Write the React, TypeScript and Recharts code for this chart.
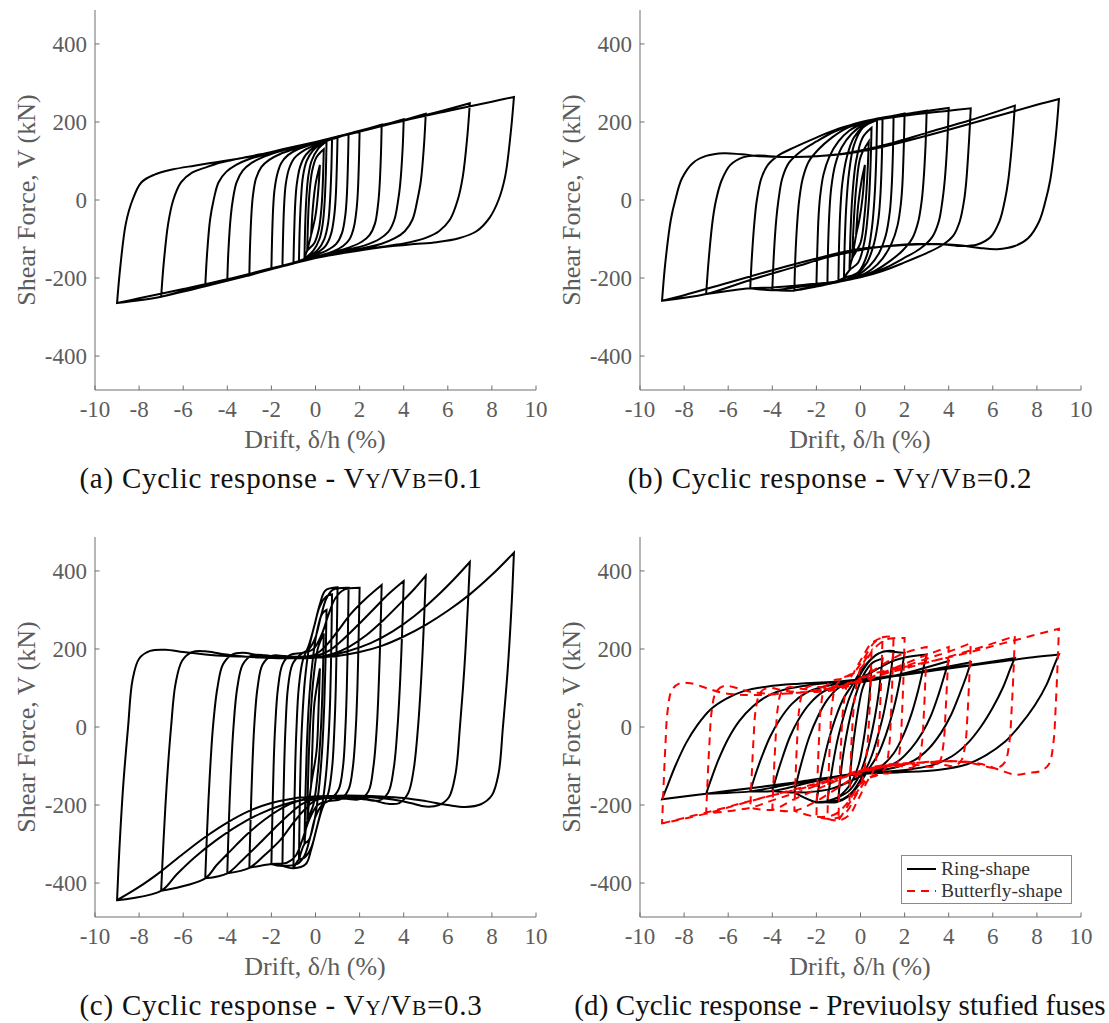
import { LineChart, Line, XAxis, YAxis } from "recharts"

const SERIF = '"Liberation Serif", "Times New Roman", serif'
const AXIS_COLOR = "#6e6e6e"
const TICK_COLOR = "#5c5c5c"

const X_TICKS = [-10, -8, -6, -4, -2, 0, 2, 4, 6, 8, 10]
const Y_TICKS = [-400, -200, 0, 200, 400]
const Y_LIM = 487

type Pt = [number, number]

// ---- (a) Vy/Vb = 0.1 : drift (%), shear (kN), one closed loop per amplitude
const A_02: Pt[] = [[-0.2, -90], [-0.12, -20], [0, 40], [0.2, 90], [0.12, 20], [0, -40], [-0.2, -90]]
const A_0375: Pt[] = [[-0.375, -130], [-0.33, -40], [-0.27, 20], [-0.15, 75], [0.05, 110], [0.375, 130], [0.33, 40], [0.27, -20], [0.15, -75], [-0.05, -110], [-0.375, -130]]
const A_05: Pt[] = [[-0.5, -150], [-0.47, -70], [-0.42, 0], [-0.33, 60], [-0.18, 100], [0.1, 130], [0.5, 150], [0.47, 70], [0.42, 0], [0.33, -60], [0.18, -100], [-0.1, -130], [-0.5, -150]]
const A_075: Pt[] = [[-0.75, -158], [-0.72, -80], [-0.66, 0], [-0.57, 60], [-0.4, 100], [-0.1, 128], [0.3, 145], [0.75, 158], [0.72, 80], [0.66, 0], [0.57, -60], [0.4, -100], [0.1, -128], [-0.3, -145], [-0.75, -158]]
const A_1: Pt[] = [[-1, -163], [-0.97, -90], [-0.92, -10], [-0.85, 40], [-0.7, 85], [-0.45, 115], [0, 138], [0.5, 152], [1, 163], [0.97, 90], [0.92, 10], [0.85, -40], [0.7, -88], [0.45, -118], [0, -138], [-0.5, -152], [-1, -163]]
const A_15: Pt[] = [[-1.5, -170], [-1.47, -90], [-1.42, -10], [-1.35, 40], [-1.2, 80], [-0.95, 108], [-0.5, 128], [0, 141], [0.75, 156], [1.5, 170], [1.47, 90], [1.42, 10], [1.35, -40], [1.2, -85], [0.95, -112], [0.5, -130], [0, -141], [-0.75, -156], [-1.5, -170]]
const A_2: Pt[] = [[-2, -177], [-1.97, -100], [-1.92, -20], [-1.86, 25], [-1.74, 65], [-1.55, 95], [-1.25, 115], [-0.8, 130], [0, 146], [1, 162], [2, 177], [1.97, 100], [1.92, 20], [1.86, -25], [1.74, -70], [1.55, -100], [1.25, -118], [0.8, -132], [0, -146], [-1, -162], [-2, -177]]
const A_3: Pt[] = [[-3, -193], [-2.97, -120], [-2.9, -30], [-2.84, 10], [-2.7, 55], [-2.45, 85], [-2.1, 103], [-1.6, 118], [-1, 130], [0, 147], [1, 162], [2, 177], [3, 193], [2.97, 120], [2.9, 30], [2.84, -10], [2.7, -60], [2.45, -90], [2.1, -107], [1.6, -120], [1, -131], [0, -147], [-1, -162], [-2, -177], [-3, -193]]
const A_4: Pt[] = [[-4, -207], [-3.95, -130], [-3.84, -40], [-3.75, 0], [-3.58, 45], [-3.3, 75], [-2.9, 95], [-2.3, 112], [-1.5, 127], [-0.5, 140], [0.5, 155], [2, 177], [3, 191], [4, 207], [3.95, 130], [3.84, 40], [3.75, 0], [3.58, -50], [3.3, -82], [2.9, -100], [2.3, -115], [1.5, -127], [0.5, -142], [-0.5, -155], [-2, -177], [-3, -191], [-4, -207]]
const A_5: Pt[] = [[-5, -221], [-4.92, -140], [-4.78, -50], [-4.62, 0], [-4.4, 45], [-4.05, 72], [-3.6, 90], [-3, 105], [-2.2, 118], [-1.2, 132], [0, 149], [1.5, 170], [3, 192], [4, 205], [5, 221], [4.92, 140], [4.78, 50], [4.62, 0], [4.4, -50], [4.05, -80], [3.6, -98], [3, -112], [2.2, -123], [1.2, -134], [0, -149], [-1.5, -170], [-3, -192], [-4, -205], [-5, -221]]
const A_7: Pt[] = [[-7, -248], [-6.88, -160], [-6.68, -60], [-6.45, 0], [-6.1, 45], [-5.6, 70], [-5, 83], [-4.3, 96], [-3.5, 106], [-2.5, 117], [-1.5, 130], [0, 149], [2, 176], [4, 204], [5.5, 225], [7, 248], [6.88, 160], [6.68, 60], [6.45, 0], [6.1, -50], [5.6, -80], [5, -97], [4.3, -108], [3.5, -116], [2.5, -124], [1.5, -133], [0, -149], [-2, -176], [-4, -204], [-5.5, -225], [-7, -248]]
const A_9: Pt[] = [[-9, -264], [-8.85, -170], [-8.6, -60], [-8.3, 0], [-7.9, 45], [-7.3, 65], [-6.5, 78], [-5.5, 88], [-4.5, 97], [-3.5, 106], [-2.5, 116], [-1.5, 128], [0, 148], [2, 175], [4, 203], [6, 228], [8, 252], [9, 264], [8.85, 170], [8.6, 60], [8.3, 0], [7.9, -45], [7.3, -80], [6.5, -98], [5.5, -108], [4.5, -113], [3.5, -118], [2.5, -125], [1.5, -134], [0, -148], [-2, -175], [-4, -203], [-6, -228], [-8, -252], [-9, -264]]

// ---- (b) Vy/Vb = 0.2
const B_02: Pt[] = [[-0.2, -90], [-0.1, -10], [0.05, 50], [0.2, 90], [0.1, 10], [-0.05, -50], [-0.2, -90]]
const B_0375: Pt[] = [[-0.375, -150], [-0.3, -50], [-0.18, 40], [0, 110], [0.375, 150], [0.3, 50], [0.18, -40], [0, -110], [-0.375, -150]]
const B_05: Pt[] = [[-0.5, -180], [-0.45, -80], [-0.37, 10], [-0.2, 100], [0.1, 160], [0.5, 185], [0.45, 80], [0.37, -10], [0.2, -100], [-0.1, -160], [-0.5, -180]]
const B_075: Pt[] = [[-0.75, -200], [-0.71, -100], [-0.64, -10], [-0.52, 70], [-0.3, 140], [0.1, 185], [0.75, 205], [0.71, 100], [0.64, 10], [0.52, -70], [0.3, -140], [-0.1, -185], [-0.75, -200]]
const B_1: Pt[] = [[-1, -207], [-0.97, -110], [-0.91, -20], [-0.82, 45], [-0.62, 110], [-0.3, 160], [0.2, 192], [0.6, 203], [1, 210], [0.97, 110], [0.91, 20], [0.82, -45], [0.62, -110], [0.3, -160], [-0.2, -192], [-0.6, -203], [-1, -207]]
const B_15: Pt[] = [[-1.5, -215], [-1.47, -120], [-1.41, -30], [-1.33, 30], [-1.15, 90], [-0.85, 135], [-0.4, 170], [0.2, 195], [0.8, 207], [1.5, 216], [1.47, 120], [1.41, 30], [1.33, -30], [1.15, -90], [0.85, -135], [0.4, -170], [-0.2, -195], [-0.8, -207], [-1.5, -215]]
const B_2: Pt[] = [[-2, -220], [-1.96, -130], [-1.9, -40], [-1.83, 10], [-1.68, 65], [-1.42, 110], [-1, 150], [-0.5, 178], [0.2, 198], [1, 210], [2, 222], [1.96, 130], [1.9, 40], [1.83, -10], [1.68, -65], [1.42, -110], [1, -150], [0.5, -178], [-0.2, -198], [-1, -210], [-2, -220]]
const B_3: Pt[] = [[-3, -232], [-2.95, -140], [-2.86, -50], [-2.78, 0], [-2.62, 55], [-2.35, 98], [-1.9, 130], [-1.3, 160], [-0.6, 185], [0.2, 200], [1.2, 212], [2, 220], [3, 229], [2.95, 140], [2.86, 50], [2.78, 0], [2.62, -55], [2.35, -98], [1.9, -130], [1.3, -158], [0.6, -183], [-0.2, -200], [-1.2, -212], [-2, -222], [-3, -232]]
const B_4: Pt[] = [[-4, -231], [-3.93, -140], [-3.82, -50], [-3.72, 0], [-3.55, 55], [-3.25, 95], [-2.7, 125], [-2, 150], [-1.2, 175], [-0.3, 195], [0.7, 208], [2, 220], [3, 228], [4, 236], [3.93, 140], [3.82, 50], [3.72, 0], [3.55, -55], [3.25, -95], [2.7, -125], [2, -148], [1.2, -172], [0.3, -192], [-0.7, -205], [-2, -216], [-3, -224], [-4, -231]]
const B_5: Pt[] = [[-5, -226], [-4.92, -140], [-4.8, -50], [-4.7, 0], [-4.5, 55], [-4.2, 90], [-3.7, 115], [-3, 135], [-2, 160], [-1, 183], [0, 198], [1, 208], [2.5, 220], [4, 229], [5, 235], [4.92, 150], [4.8, 50], [4.7, 0], [4.5, -55], [4.2, -92], [3.7, -116], [3, -136], [2, -160], [1, -182], [0, -198], [-1, -208], [-2.5, -217], [-4, -224], [-5, -226]]
const B_7: Pt[] = [[-7, -241], [-6.88, -150], [-6.7, -50], [-6.55, 0], [-6.3, 50], [-5.9, 90], [-5.3, 110], [-4.6, 114], [-3.8, 111], [-3, 110], [-2, 112], [-1, 117], [0, 127], [1.5, 147], [3, 172], [5, 205], [7, 242], [6.88, 150], [6.7, 50], [6.55, 0], [6.3, -55], [5.9, -95], [5.3, -114], [4.6, -118], [3.8, -114], [3, -112], [2, -114], [1, -119], [0, -128], [-1.5, -147], [-3, -172], [-5, -205], [-7, -241]]
const B_9: Pt[] = [[-9, -258], [-8.85, -160], [-8.6, -50], [-8.4, 0], [-8.1, 55], [-7.6, 95], [-7, 113], [-6.2, 120], [-5.4, 117], [-4.5, 112], [-3.5, 110], [-2.5, 111], [-1.5, 114], [-0.5, 120], [0.5, 130], [2, 150], [4, 180], [6, 212], [8, 244], [9, 259], [8.85, 160], [8.6, 50], [8.4, 0], [8.1, -55], [7.6, -98], [7, -118], [6.2, -126], [5.4, -123], [4.5, -116], [3.5, -113], [2.5, -114], [1.5, -117], [0.5, -122], [-0.5, -130], [-2, -150], [-4, -180], [-6, -212], [-8, -244], [-9, -258]]

// ---- (c) Vy/Vb = 0.3
const C_02: Pt[] = [[-0.2, -150], [-0.14, -50], [-0.05, 60], [0.2, 150], [0.14, 50], [0.05, -60], [-0.2, -150]]
const C_0375: Pt[] = [[-0.375, -240], [-0.33, -120], [-0.25, 0], [-0.1, 120], [0.1, 200], [0.375, 240], [0.33, 120], [0.25, 0], [0.1, -120], [-0.1, -200], [-0.375, -240]]
const C_05: Pt[] = [[-0.5, -300], [-0.46, -180], [-0.4, -60], [-0.3, 60], [-0.15, 160], [0.05, 240], [0.3, 290], [0.5, 300], [0.46, 180], [0.4, 60], [0.3, -60], [0.15, -160], [-0.05, -240], [-0.3, -290], [-0.5, -300]]
const C_075: Pt[] = [[-0.75, -340], [-0.72, -220], [-0.67, -80], [-0.6, 20], [-0.48, 120], [-0.3, 200], [-0.05, 260], [0.2, 310], [0.5, 335], [0.75, 340], [0.72, 220], [0.67, 80], [0.6, -20], [0.48, -120], [0.3, -200], [0.05, -260], [-0.2, -310], [-0.5, -335], [-0.75, -340]]
const C_1: Pt[] = [[-1, -362], [-0.97, -250], [-0.92, -100], [-0.86, 0], [-0.76, 100], [-0.58, 170], [-0.3, 210], [-0.05, 260], [0.2, 315], [0.45, 350], [1, 358], [0.97, 250], [0.92, 100], [0.86, 0], [0.76, -100], [0.58, -170], [0.3, -210], [0.05, -260], [-0.2, -315], [-0.45, -352], [-1, -362]]
const C_15: Pt[] = [[-1.5, -356], [-1.47, -240], [-1.42, -100], [-1.36, 0], [-1.25, 100], [-1.05, 160], [-0.7, 185], [-0.3, 200], [0, 230], [0.25, 285], [0.5, 330], [0.8, 352], [1.5, 357], [1.47, 240], [1.42, 100], [1.36, 0], [1.25, -100], [1.05, -160], [0.7, -185], [0.3, -200], [0, -230], [-0.25, -285], [-0.5, -330], [-0.8, -350], [-1.5, -356]]
const C_2: Pt[] = [[-2, -351], [-1.96, -240], [-1.9, -100], [-1.83, 0], [-1.7, 100], [-1.5, 160], [-1.15, 185], [-0.6, 190], [-0.1, 200], [0.3, 240], [0.6, 290], [0.9, 330], [1.3, 352], [2, 357], [1.96, 240], [1.9, 100], [1.83, 0], [1.7, -100], [1.5, -160], [1.15, -185], [0.6, -190], [0.1, -200], [-0.3, -240], [-0.6, -290], [-0.9, -330], [-1.3, -348], [-2, -351]]
const C_3: Pt[] = [[-3, -361], [-2.95, -250], [-2.87, -110], [-2.78, 0], [-2.63, 100], [-2.4, 160], [-2, 182], [-1.4, 182], [-0.7, 180], [0, 186], [0.5, 210], [1, 245], [1.6, 290], [2.3, 330], [3, 364], [2.95, 250], [2.87, 110], [2.78, 0], [2.63, -100], [2.4, -165], [2, -185], [1.4, -184], [0.7, -182], [0, -188], [-0.5, -212], [-1, -245], [-1.6, -290], [-2.3, -328], [-3, -361]]
const C_4: Pt[] = [[-4, -375], [-3.94, -260], [-3.84, -120], [-3.72, 0], [-3.55, 100], [-3.3, 160], [-2.9, 183], [-2.3, 184], [-1.6, 178], [-0.8, 178], [0, 182], [0.6, 195], [1.2, 222], [1.9, 260], [2.6, 300], [3.3, 340], [4, 374], [3.94, 260], [3.84, 120], [3.72, 0], [3.55, -105], [3.3, -168], [2.9, -188], [2.3, -186], [1.6, -180], [0.8, -179], [0, -184], [-0.6, -197], [-1.2, -224], [-1.9, -262], [-2.6, -302], [-3.3, -340], [-4, -375]]
const C_5: Pt[] = [[-5, -388], [-4.92, -270], [-4.8, -130], [-4.65, 0], [-4.45, 100], [-4.2, 160], [-3.8, 185], [-3.3, 190], [-2.6, 184], [-1.8, 178], [-1, 176], [0, 178], [0.8, 188], [1.5, 205], [2.3, 235], [3.1, 275], [3.9, 320], [4.5, 355], [5, 388], [4.92, 270], [4.8, 130], [4.65, 0], [4.45, -110], [4.2, -170], [3.8, -195], [3.3, -197], [2.6, -188], [1.8, -180], [1, -178], [0, -180], [-0.8, -190], [-1.5, -207], [-2.3, -237], [-3.1, -275], [-3.9, -320], [-4.5, -355], [-5, -388]]
const C_7: Pt[] = [[-7, -420], [-6.9, -300], [-6.75, -150], [-6.55, 0], [-6.35, 110], [-6.05, 170], [-5.6, 192], [-5, 194], [-4.3, 188], [-3.5, 182], [-2.5, 178], [-1.5, 176], [-0.5, 177], [0.5, 182], [1.5, 195], [2.5, 215], [3.5, 245], [4.5, 285], [5.5, 335], [6.3, 380], [7, 423], [6.9, 300], [6.75, 150], [6.55, 0], [6.35, -120], [6.05, -180], [5.6, -200], [5, -204], [4.3, -195], [3.5, -186], [2.5, -180], [1.5, -178], [0.5, -180], [-0.5, -186], [-1.5, -200], [-2.5, -222], [-3.5, -252], [-4.5, -290], [-5.5, -335], [-6.3, -378], [-7, -420]]
const C_9: Pt[] = [[-9, -444], [-8.9, -320], [-8.72, -150], [-8.5, 0], [-8.3, 120], [-8, 175], [-7.5, 195], [-6.8, 198], [-6, 192], [-5, 186], [-4, 182], [-3, 180], [-2, 178], [-1, 177], [0, 178], [1, 182], [2, 192], [3, 208], [4, 232], [5, 262], [6, 298], [7, 340], [8, 390], [9, 447], [8.9, 320], [8.72, 150], [8.5, 0], [8.3, -120], [8, -175], [7.5, -198], [6.8, -205], [6, -200], [5, -190], [4, -182], [3, -178], [2, -176], [1, -176], [0, -178], [-1, -183], [-2, -195], [-3, -215], [-4, -245], [-5, -282], [-6, -325], [-7, -370], [-8, -410], [-9, -444]]

// ---- (d) ring-shape fuse (solid black)
const R_05: Pt[] = [[-0.5, -150], [-0.42, -90], [-0.3, -30], [-0.12, 40], [0.1, 100], [0.5, 150], [0.42, 90], [0.3, 30], [0.12, -40], [-0.1, -100], [-0.5, -150]]
const R_1: Pt[] = [[-1, -180], [-0.93, -140], [-0.82, -85], [-0.65, -25], [-0.45, 30], [-0.2, 85], [0.15, 135], [0.55, 165], [1, 175], [0.93, 140], [0.82, 85], [0.65, 25], [0.45, -30], [0.2, -85], [-0.15, -135], [-0.55, -165], [-1, -180]]
const R_15: Pt[] = [[-1.5, -190], [-1.4, -150], [-1.25, -95], [-1.05, -35], [-0.8, 20], [-0.5, 75], [-0.1, 125], [0.35, 165], [0.8, 188], [1.2, 195], [1.5, 195], [1.4, 150], [1.25, 95], [1.05, 35], [0.8, -20], [0.5, -75], [0.1, -125], [-0.35, -165], [-0.8, -185], [-1.2, -190], [-1.5, -190]]
const R_2: Pt[] = [[-2, -193], [-1.88, -150], [-1.7, -95], [-1.45, -35], [-1.15, 20], [-0.8, 70], [-0.35, 110], [0.1, 150], [0.6, 180], [1.1, 194], [1.6, 192], [2, 190], [1.88, 150], [1.7, 95], [1.45, 35], [1.15, -20], [0.8, -70], [0.35, -110], [-0.1, -150], [-0.6, -180], [-1.1, -193], [-1.6, -193], [-2, -193]]
const R_3: Pt[] = [[-3, -168], [-2.85, -130], [-2.62, -80], [-2.32, -25], [-1.95, 25], [-1.5, 70], [-1, 100], [-0.3, 118], [0.5, 140], [1.3, 165], [2, 178], [3, 186], [2.85, 150], [2.62, 95], [2.32, 35], [1.95, -20], [1.5, -68], [1, -98], [0.3, -118], [-0.5, -140], [-1.3, -158], [-2, -165], [-3, -168]]
const R_4: Pt[] = [[-4, -164], [-3.82, -128], [-3.55, -80], [-3.2, -25], [-2.8, 20], [-2.3, 60], [-1.7, 90], [-1, 105], [0, 115], [1, 125], [2.5, 145], [4, 169], [3.82, 135], [3.55, 85], [3.2, 30], [2.8, -15], [2.3, -55], [1.7, -88], [1, -105], [0, -117], [-1, -127], [-2.5, -145], [-4, -164]]
const R_5: Pt[] = [[-5, -165], [-4.8, -128], [-4.5, -80], [-4.1, -25], [-3.65, 20], [-3.1, 60], [-2.45, 88], [-1.7, 103], [-0.8, 112], [0.5, 120], [2, 135], [3.5, 150], [5, 166], [4.8, 130], [4.5, 85], [4.1, 30], [3.65, -15], [3.1, -55], [2.45, -85], [1.7, -102], [0.8, -112], [-0.5, -122], [-2, -135], [-3.5, -150], [-5, -165]]
const R_7: Pt[] = [[-7, -171], [-6.78, -135], [-6.45, -85], [-6, -30], [-5.5, 15], [-4.9, 52], [-4.2, 80], [-3.3, 98], [-2.2, 108], [-1, 115], [0.5, 123], [2.5, 138], [4.5, 155], [6, 168], [7, 177], [6.8, 150], [6.45, 100], [6, 50], [5.45, 0], [4.85, -42], [4.15, -75], [3.3, -97], [2.3, -108], [1, -115], [-0.5, -122], [-2, -135], [-4, -150], [-5.5, -160], [-7, -171]]
const R_9: Pt[] = [[-9, -185], [-8.75, -150], [-8.4, -100], [-7.9, -40], [-7.4, 5], [-6.8, 45], [-6.1, 72], [-5.3, 92], [-4.2, 104], [-2.8, 111], [-1.2, 116], [0.5, 125], [2, 135], [4, 150], [6, 165], [8, 180], [9, 186], [8.8, 160], [8.45, 110], [7.9, 55], [7.2, 2], [6.55, -38], [5.7, -72], [4.8, -96], [3.5, -110], [1.8, -116], [0.2, -120], [-1.5, -130], [-3, -142], [-5, -157], [-7, -171], [-9, -185]]

// ---- (d) butterfly-shape fuse (dashed red)
const F_05: Pt[] = [[-0.5, -190], [-0.45, -100], [-0.38, -10], [-0.25, 80], [0, 150], [0.5, 195], [0.45, 100], [0.38, 10], [0.25, -80], [0, -150], [-0.5, -195]]
const F_1: Pt[] = [[-1, -240], [-0.95, -140], [-0.88, -40], [-0.78, 50], [-0.6, 110], [-0.3, 140], [0.1, 180], [0.5, 215], [1, 230], [0.95, 140], [0.88, 40], [0.78, -50], [0.6, -110], [0.3, -140], [-0.1, -185], [-0.5, -225], [-1, -240]]
const F_15: Pt[] = [[-1.5, -235], [-1.45, -130], [-1.38, -30], [-1.3, 50], [-1.12, 105], [-0.8, 125], [-0.3, 140], [0.2, 180], [0.6, 215], [1, 230], [1.5, 232], [1.45, 130], [1.38, 30], [1.3, -50], [1.12, -105], [0.8, -122], [0.3, -135], [-0.2, -175], [-0.6, -215], [-1, -232], [-1.5, -235]]
const F_2: Pt[] = [[-2, -230], [-1.95, -130], [-1.88, -30], [-1.8, 50], [-1.62, 100], [-1.3, 118], [-0.8, 125], [0, 150], [0.6, 200], [1.2, 225], [2, 228], [1.95, 130], [1.88, 30], [1.8, -50], [1.62, -100], [1.3, -118], [0.8, -120], [0, -145], [-0.6, -195], [-1.2, -225], [-2, -230]]
const F_3: Pt[] = [[-3, -215], [-2.94, -120], [-2.87, -30], [-2.78, 45], [-2.6, 92], [-2.3, 105], [-1.8, 102], [-1, 105], [0, 125], [1, 160], [2, 190], [3, 205], [2.94, 120], [2.87, 30], [2.78, -45], [2.6, -92], [2.3, -105], [1.8, -100], [1, -103], [0, -120], [-1, -155], [-2, -190], [-3, -215]]
const F_4: Pt[] = [[-4, -212], [-3.93, -120], [-3.85, -30], [-3.76, 45], [-3.58, 90], [-3.25, 102], [-2.7, 98], [-2, 95], [-1, 100], [0, 118], [1.5, 150], [3, 185], [4, 205], [3.93, 120], [3.85, 30], [3.76, -45], [3.58, -90], [3.25, -102], [2.7, -98], [2, -95], [1, -100], [0, -112], [-1.5, -148], [-3, -185], [-4, -212]]
const F_5: Pt[] = [[-5, -207], [-4.93, -120], [-4.85, -30], [-4.75, 45], [-4.55, 88], [-4.2, 100], [-3.6, 95], [-3, 90], [-2, 90], [-1, 97], [0, 115], [1.5, 145], [3, 175], [4, 193], [5, 215], [4.93, 120], [4.85, 30], [4.75, -45], [4.55, -88], [4.2, -100], [3.6, -95], [3, -92], [2, -93], [1, -98], [0, -110], [-1.5, -140], [-3, -170], [-4, -188], [-5, -207]]
const F_7: Pt[] = [[-7, -222], [-6.93, -130], [-6.85, -40], [-6.75, 40], [-6.55, 90], [-6.2, 105], [-5.6, 100], [-5, 90], [-4, 85], [-3, 87], [-2, 92], [-1, 102], [0, 120], [2, 150], [4, 180], [5.5, 205], [7, 233], [6.93, 130], [6.85, 40], [6.75, -40], [6.55, -90], [6.2, -105], [5.6, -100], [5, -92], [4, -88], [3, -90], [2, -95], [1, -103], [0, -115], [-2, -145], [-4, -175], [-5.5, -198], [-7, -222]]
const F_9: Pt[] = [[-9, -247], [-8.93, -150], [-8.85, -50], [-8.75, 40], [-8.55, 95], [-8.2, 112], [-7.7, 112], [-7, 100], [-6.3, 88], [-5.5, 83], [-4.5, 82], [-3.5, 85], [-2.5, 90], [-1.5, 98], [-0.5, 110], [0.5, 135], [2.5, 160], [4.5, 185], [6.5, 215], [9, 252], [8.93, 150], [8.85, 50], [8.75, -40], [8.55, -95], [8.2, -112], [7.6, -118], [7, -122], [6.3, -110], [5.5, -95], [4.5, -88], [3.5, -88], [2.5, -92], [1.5, -98], [0.5, -108], [-0.5, -125], [-2.5, -155], [-4.5, -182], [-6.5, -212], [-9, -247]]

const toRows = (loops: Pt[][]) => loops.flat().map(([d, v]) => ({ d, v }))

// centripetal catmull-rom; points where the drift reverses are kept as sharp corners
function loopCurve(ctx: any) {
  let pts: number[][] = []
  return {
    areaStart() {},
    areaEnd() {},
    lineStart() {
      pts = []
    },
    point(x: number, y: number) {
      pts.push([+x, +y])
    },
    lineEnd() {
      const n = pts.length
      if (!n) return
      const corner = pts.map((p, i) => i > 0 && i < n - 1 && (p[0] - pts[i - 1][0]) * (pts[i + 1][0] - p[0]) < 0)
      ctx.moveTo(pts[0][0], pts[0][1])
      for (let i = 0; i < n - 1; i++) {
        const p1 = pts[i]
        const p2 = pts[i + 1]
        const p0 = i > 0 && !corner[i] ? pts[i - 1] : p1
        const p3 = i + 2 < n && !corner[i + 1] ? pts[i + 2] : p2
        const l01 = Math.hypot(p1[0] - p0[0], p1[1] - p0[1])
        const l12 = Math.hypot(p2[0] - p1[0], p2[1] - p1[1])
        const l23 = Math.hypot(p3[0] - p2[0], p3[1] - p2[1])
        const a01 = Math.sqrt(l01), a12 = Math.sqrt(l12), a23 = Math.sqrt(l23)
        let c1 = p1
        let c2 = p2
        if (a01 > 1e-6) {
          const a = 2 * l01 + 3 * a01 * a12 + l12
          const m = 3 * a01 * (a01 + a12)
          c1 = [(p1[0] * a - p0[0] * l12 + p2[0] * l01) / m, (p1[1] * a - p0[1] * l12 + p2[1] * l01) / m]
        }
        if (a23 > 1e-6) {
          const b = 2 * l23 + 3 * a23 * a12 + l12
          const m = 3 * a23 * (a23 + a12)
          c2 = [(p2[0] * b + p1[0] * l23 - p3[0] * l12) / m, (p2[1] * b + p1[1] * l23 - p3[1] * l12) / m]
        }
        ctx.bezierCurveTo(c1[0], c1[1], c2[0], c2[1], p2[0], p2[1])
      }
    },
  }
}

const BottomTick = ({ x, y, payload }: any) => (
  <g>
    <line x1={x} y1={y} x2={x} y2={y - 4.5} stroke={AXIS_COLOR} />
    <text x={x} y={y + 27} textAnchor="middle" fontFamily={SERIF} fontSize={23} fill={TICK_COLOR}>
      {payload.value}
    </text>
  </g>
)
const TopTick = ({ x, y }: any) => <line x1={x} y1={y} x2={x} y2={y + 4.5} stroke={AXIS_COLOR} />
const LeftTick = ({ x, y, payload }: any) => (
  <g>
    <line x1={x} y1={y} x2={x + 4.5} y2={y} stroke={AXIS_COLOR} />
    <text x={x - 8} y={y + 8} textAnchor="end" fontFamily={SERIF} fontSize={23} fill={TICK_COLOR}>
      {payload.value}
    </text>
  </g>
)
const RightTick = ({ x, y }: any) => <line x1={x} y1={y} x2={x - 4.5} y2={y} stroke={AXIS_COLOR} />

type Series = { key: string; rows: { d: number; v: number }[]; color: string; dash?: string }

const Small = ({ children }: { children: string }) => <span style={{ fontSize: "0.74em" }}>{children}</span>

function Panel({ left, top, series, caption, capX = 281, capSpacing = 0.75, children }: { left: number; top: number; series: Series[]; caption: React.ReactNode; capX?: number; capSpacing?: number; children?: React.ReactNode }) {
  return (
    <div style={{ position: "absolute", left, top, width: 564, height: 500 }}>
      <LineChart width={560} height={460} margin={{ top: 10, right: 24, bottom: 0, left: 35 }}>
        <XAxis xAxisId="b" type="number" dataKey="d" domain={[-10, 10]} ticks={X_TICKS} interval={0} allowDataOverflow tickSize={0} tickMargin={0} tickLine={false} axisLine={{ stroke: AXIS_COLOR }} tick={BottomTick} height={70} />
        <XAxis xAxisId="t" orientation="top" type="number" dataKey="d" domain={[-10, 10]} ticks={X_TICKS} interval={0} allowDataOverflow tickSize={0} tickMargin={0} tickLine={false} axisLine={{ stroke: AXIS_COLOR }} tick={TopTick} height={0} />
        <YAxis yAxisId="l" type="number" domain={[-Y_LIM, Y_LIM]} ticks={Y_TICKS} interval={0} allowDataOverflow tickSize={0} tickMargin={0} tickLine={false} axisLine={{ stroke: AXIS_COLOR }} tick={LeftTick} width={60} />
        <YAxis yAxisId="r" orientation="right" type="number" domain={[-Y_LIM, Y_LIM]} ticks={Y_TICKS} interval={0} allowDataOverflow tickSize={0} tickMargin={0} tickLine={false} axisLine={{ stroke: AXIS_COLOR }} tick={RightTick} width={0} />
        {series.map((s) => (
          <Line key={s.key} xAxisId="b" yAxisId="l" data={s.rows} dataKey="v" type={loopCurve as any} stroke={s.color} strokeWidth={2} strokeDasharray={s.dash} dot={false} activeDot={false} isAnimationActive={false} />
        ))}
      </LineChart>
      <div style={{ position: "absolute", left: 27, top: 200, transform: "translate(-50%, -50%) rotate(-90deg)", whiteSpace: "nowrap", fontFamily: SERIF, fontSize: 26, color: TICK_COLOR }}>
        Shear Force, V (kN)
      </div>
      <div style={{ position: "absolute", left: 315, top: 440, transform: "translate(-50%, -50%)", whiteSpace: "nowrap", fontFamily: SERIF, fontSize: 26, color: TICK_COLOR }}>
        Drift, δ/h (%)
      </div>
      <div style={{ position: "absolute", left: capX, top: 478, transform: "translate(-50%, -50%)", whiteSpace: "nowrap", fontFamily: SERIF, fontSize: 29, letterSpacing: capSpacing, color: "#111" }}>
        {caption}
      </div>
      {children}
    </div>
  )
}

export default function App() {
  const black = "#000"
  const red = "#ff0000"
  return (
    <div style={{ position: "absolute", left: 0, top: 0, width: 1109, height: 1023, background: "#fff", overflow: "hidden" }}>
      <Panel
        left={0}
        top={0}
        series={[{ key: "a", rows: toRows([A_02, A_0375, A_05, A_075, A_1, A_15, A_2, A_3, A_4, A_5, A_7, A_9]), color: black }]}
        caption={<>(a) Cyclic response - V<Small>Y</Small>/V<Small>B</Small>=0.1</>}
      />
      <Panel
        left={545}
        top={0}
        series={[{ key: "b", rows: toRows([B_02, B_0375, B_05, B_075, B_1, B_15, B_2, B_3, B_4, B_5, B_7, B_9]), color: black }]}
        caption={<>(b) Cyclic response - V<Small>Y</Small>/V<Small>B</Small>=0.2</>}
        capX={285}
      />
      <Panel
        left={0}
        top={527}
        series={[{ key: "c", rows: toRows([C_02, C_0375, C_05, C_075, C_1, C_15, C_2, C_3, C_4, C_5, C_7, C_9]), color: black }]}
        caption={<>(c) Cyclic response - V<Small>Y</Small>/V<Small>B</Small>=0.3</>}
      />
      <Panel
        left={545}
        top={527}
        series={[
          { key: "ring", rows: toRows([R_05, R_1, R_15, R_2, R_3, R_4, R_5, R_7, R_9]), color: black },
          { key: "fly", rows: toRows([F_05, F_1, F_15, F_2, F_3, F_4, F_5, F_7, F_9]), color: red, dash: "8 6" },
        ]}
        caption={<>(d) Cyclic response - Previuolsy stufied fuses</>}
        capX={295}
        capSpacing={0.1}
      >
        <div style={{ position: "absolute", left: 356, top: 328, width: 169, height: 47, border: "1px solid #8a8a8a", background: "#fff", fontFamily: SERIF, fontSize: 19.5, color: "#333" }}>
          <div style={{ position: "absolute", left: 5, top: 1, display: "flex", alignItems: "center", height: 24 }}>
            <svg width={30} height={4}><line x1={0} y1={2} x2={29} y2={2} stroke={black} strokeWidth={2} /></svg>
            <span style={{ marginLeft: 4 }}>Ring-shape</span>
          </div>
          <div style={{ position: "absolute", left: 5, top: 23, display: "flex", alignItems: "center", height: 24 }}>
            <svg width={30} height={4}><line x1={0} y1={2} x2={29} y2={2} stroke={red} strokeWidth={2} strokeDasharray="8 6" /></svg>
            <span style={{ marginLeft: 4 }}>Butterfly-shape</span>
          </div>
        </div>
      </Panel>
    </div>
  )
}
